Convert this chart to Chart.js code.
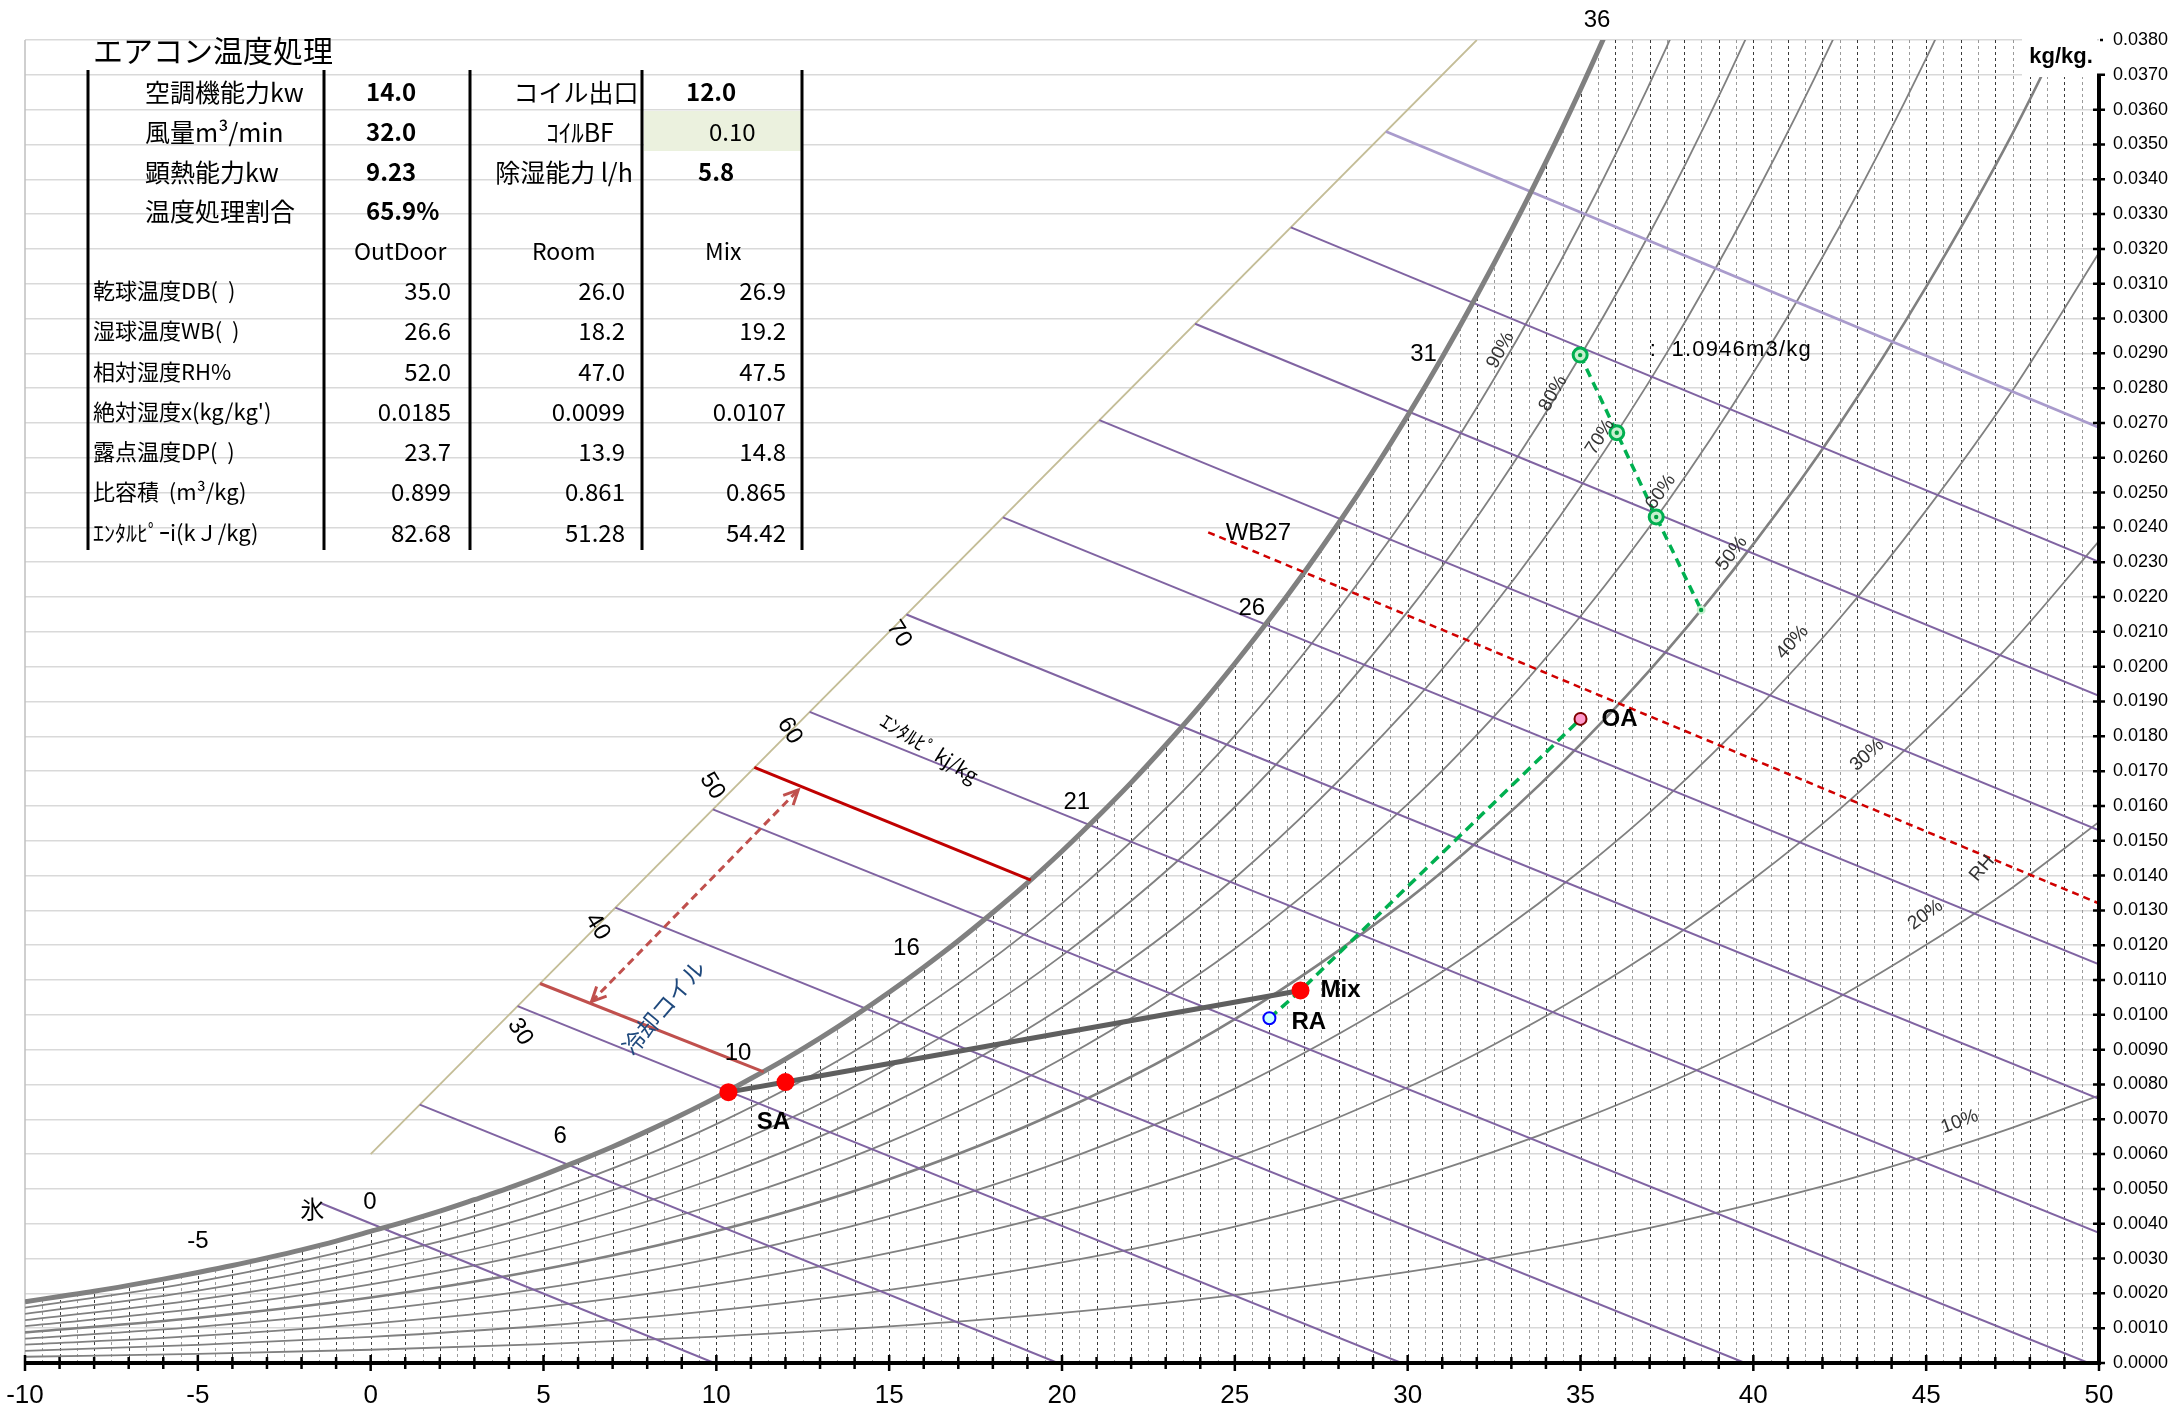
<!DOCTYPE html>
<html>
<head>
<meta charset="utf-8">
<script src="https://cdn.jsdelivr.net/npm/chart.js@4.4.0/dist/chart.umd.min.js"></script>
<style>
  html, body { margin: 0; padding: 0; background: #fff; }
  canvas { display: block; }
</style>
</head>
<body>
<canvas id="psy" width="2175" height="1406"></canvas>
<script>
// saturation curve (100%), kg/kg
const satTemps = [-10, -9, -8, -7, -6, -5, -4, -3, -2, -1, 0, 1, 2, 3, 4, 5, 6, 7, 8, 9, 10, 11, 12, 13, 14, 15, 16, 17, 18, 19, 20, 21, 22, 23, 24, 25, 26, 27, 28, 29, 30, 31, 32, 33, 34, 35, 36, 37];
const satX = [0.00176, 0.00191, 0.00206, 0.00223, 0.00241, 0.00260, 0.00280, 0.00302, 0.00325, 0.00350, 0.00378, 0.00406, 0.00436, 0.00469, 0.00503, 0.00540, 0.00580, 0.00621, 0.00666, 0.00713, 0.00763, 0.00817, 0.00873, 0.00933, 0.00997, 0.01065, 0.01137, 0.01213, 0.01294, 0.01379, 0.01470, 0.01566, 0.01667, 0.01775, 0.01888, 0.02009, 0.02136, 0.02270, 0.02412, 0.02562, 0.02721, 0.02889, 0.03066, 0.03253, 0.03450, 0.03658, 0.03879, 0.04109];

// relative humidity curves, kg/kg
const rhLevels = [90, 80, 70, 60, 50, 40, 30, 20, 10];
const rhTemps = [-10, -5, 0, 5, 10, 15, 20, 25, 30, 32.5, 35, 37.5, 40, 42.5, 45, 47.5, 50];
const rh90 = [0.00159, 0.00234, 0.00340, 0.00486, 0.00686, 0.00957, 0.01320, 0.01802, 0.02438, 0.02827, 0.03273, 0.03782, 0.04366, null, null, null, null];
const rh80 = [0.00141, 0.00208, 0.00302, 0.00432, 0.00609, 0.00849, 0.01170, 0.01597, 0.02158, 0.02501, 0.02893, 0.03339, 0.03851, 0.04431, null, null, null];
const rh70 = [0.00123, 0.00182, 0.00264, 0.00377, 0.00532, 0.00742, 0.01022, 0.01393, 0.01880, 0.02177, 0.02517, 0.02902, 0.03344, 0.03843, 0.04415, null, null];
const rh60 = [0.00106, 0.00156, 0.00226, 0.00323, 0.00456, 0.00635, 0.00874, 0.01190, 0.01605, 0.01857, 0.02145, 0.02471, 0.02844, 0.03265, 0.03747, 0.04287, null];
const rh50 = [0.00088, 0.00130, 0.00188, 0.00269, 0.00379, 0.00528, 0.00726, 0.00988, 0.01331, 0.01540, 0.01777, 0.02046, 0.02352, 0.02698, 0.03091, 0.03532, 0.04037];
const rh40 = [0.00070, 0.00104, 0.00151, 0.00215, 0.00303, 0.00422, 0.00580, 0.00788, 0.01061, 0.01226, 0.01414, 0.01626, 0.01868, 0.02139, 0.02449, 0.02794, 0.03189];
const rh30 = [0.00053, 0.00078, 0.00113, 0.00161, 0.00227, 0.00316, 0.00434, 0.00589, 0.00792, 0.00915, 0.01054, 0.01211, 0.01390, 0.01591, 0.01819, 0.02072, 0.02361];
const rh20 = [0.00035, 0.00052, 0.00075, 0.00107, 0.00151, 0.00210, 0.00289, 0.00392, 0.00526, 0.00607, 0.00699, 0.00802, 0.00920, 0.01052, 0.01201, 0.01366, 0.01554];
const rh10 = [0.00018, 0.00026, 0.00038, 0.00054, 0.00076, 0.00105, 0.00144, 0.00195, 0.00262, 0.00302, 0.00347, 0.00399, 0.00457, 0.00521, 0.00595, 0.00676, 0.00768];
const rhCurves = [rh90, rh80, rh70, rh60, rh50, rh40, rh30, rh20, rh10];

// enthalpy lines kJ/kg (start on the enthalpy scale, end at chart border)
const enthalpyH = [10, 20, 30, 40, 50, 60, 70, 80, 90, 100, 110, 120];
const enthStartT = [-1.42, 1.42, 4.25, 7.08, 9.9, 12.7, 15.5, 18.29, 21.08, 23.85, 26.62, 29.37];
const enthStartX = [0.00458, 0.00742, 0.01025, 0.01308, 0.0159, 0.0187, 0.0215, 0.02429, 0.02708, 0.02985, 0.03262, 0.03537];
const enthEndT = [9.94, 19.88, 29.82, 39.76, 49.7, 50, 50, 50, 50, 50, 50, 50];
const enthEndX = [0, 0, 0, 0, 0, 0.00374, 0.00759, 0.01145, 0.0153, 0.01916, 0.02301, 0.02687];
const enthScaleT = [0, 32];
const enthScaleX = [0.006, 0.038];

// states
const saT = 10.35, saX = 0.00778;
const coilT = 12.0, coilX = 0.00807;
const mixT = 26.9, mixX = 0.0107;
const raT = 26.0, raX = 0.0099;
const oaT = 35.0, oaX = 0.0185;

// coil enthalpy lines and arrow
const coilHiT = [11.1, 19.1], coilHiX = [0.01711, 0.01387];
const coilLoT = [4.9, 11.37], coilLoX = [0.0109, 0.00836];
const arrowT = [6.39, 12.37], arrowX = [0.01038, 0.01646];

// wet bulb 27 line
const wb27T = [24.23, 50], wb27X = [0.02386, 0.0132];

// green marker line
const volT = [34.99, 36.05, 37.19, 38.49];
const volX = [0.02895, 0.02672, 0.0243, 0.02163];

// labels
const wbLabelText = ['-5', '0', '6', '10', '16', '21', '26', '31', '36'];
const wbLabelT = [-5.0, -0.02, 5.48, 10.63, 15.5, 20.43, 25.49, 30.46, 35.48];
const wbLabelX = [0.00349, 0.00461, 0.0065, 0.00889, 0.01191, 0.01609, 0.02167, 0.02898, 0.03857];
const enthLabelText = ['30', '40', '50', '60', '70'];
const enthLabelT = [4.32, 6.56, 9.88, 12.12, 15.28];
const enthLabelX = [0.00951, 0.01253, 0.01657, 0.01816, 0.02094];
const rhLabelT = [32.69, 34.21, 35.57, 37.32, 39.38, 41.13, 43.29, 44.98, 45.97];
const rhLabelX = [0.02909, 0.02785, 0.0266, 0.02502, 0.02325, 0.0207, 0.01746, 0.01287, 0.00693];
const rhLabelRot = [-62, -60, -58, -55, -52, -48, -42, -36, -20];

// table
const topRows = [
  ['空調機能力kw', '14.0', 'コイル出口', '12.0'],
  ['風量m³/min', '32.0', 'ｺｲﾙBF', '0.10'],
  ['顕熱能力kw', '9.23', '除湿能力 l/h', '5.8'],
  ['温度処理割合', '65.9%', '', '']
];
const colHeads = ['OutDoor', 'Room', 'Mix'];
const rowNames = ['乾球温度DB(  )', '湿球温度WB(  )', '相対湿度RH%', "絶対湿度x(kg/kg')", '露点温度DP(  )', '比容積  (m³/kg)', 'ｴﾝﾀﾙﾋﾟｰi(kＪ/kg)'];
const outdoorVals = ['35.0', '26.6', '52.0', '0.0185', '23.7', '0.899', '82.68'];
const roomVals = ['26.0', '18.2', '47.0', '0.0099', '13.9', '0.861', '51.28'];
const mixVals = ['26.9', '19.2', '47.5', '0.0107', '14.8', '0.865', '54.42'];

const pts = (ts, xs) => ts.map((t, i) => ({ x: t, y: xs[i] })).filter(p => p.y !== null);
const line = (data, color, width, extra) => Object.assign({ data, borderColor: color, borderWidth: width, pointRadius: 0, showLine: true, fill: false }, extra || {});

// back to front
const datasets = [];
datasets.push(line(pts(enthScaleT, enthScaleX), '#c4bd97', 1.8));
rhCurves.forEach((c, i) => datasets.push(line(pts(rhTemps, c), '#808080', rhLevels[i] === 50 ? 2.6 : 1.8, { cubicInterpolationMode: 'monotone' })));
enthalpyH.forEach((h, i) => datasets.push(line([{ x: enthStartT[i], y: enthStartX[i] }, { x: enthEndT[i], y: enthEndX[i] }],
  h === 120 ? '#a99bcc' : '#8064a2', h === 120 ? 2.8 : 2)));
datasets.push(line(pts(satTemps, satX), '#808080', 5, { cubicInterpolationMode: 'monotone' }));
datasets.push(line(pts(wb27T, wb27X), '#d00000', 2.5, { borderDash: [7, 5] }));
datasets.push(line(pts(coilHiT, coilHiX), '#c00000', 3));
datasets.push(line(pts(coilLoT, coilLoX), '#c0504d', 3));
datasets.push(line(pts(arrowT, arrowX), '#c0504d', 3, { borderDash: [8, 5] }));
datasets.push(line(pts(volT, volX), '#00b050', 3.5, {
  borderDash: [9, 6], pointRadius: [7, 7, 7, 4.5], pointBorderWidth: [3, 3, 3, 0],
  pointBackgroundColor: '#c6efce', pointBorderColor: '#00b050'
}));
datasets.push({ data: pts(volT, volX), showLine: false, pointRadius: 2.2, pointBackgroundColor: '#00a040', pointBorderWidth: 0 });
datasets.push(line([{ x: saT, y: saX }, { x: coilT, y: coilX }, { x: mixT, y: mixX }], '#5f5f5f', 5));
datasets.push(line([{ x: raT, y: raX }, { x: mixT, y: mixX }, { x: oaT, y: oaX }], '#00b050', 3.5, { borderDash: [10, 6] }));
datasets.push({ data: [{ x: raT, y: raX }], showLine: false, pointRadius: 6, pointBackgroundColor: '#ccffff', pointBorderColor: '#0000ff', pointBorderWidth: 2 });
datasets.push({ data: [{ x: oaT, y: oaX }], showLine: false, pointRadius: 6, pointBackgroundColor: '#ff99cc', pointBorderColor: '#800000', pointBorderWidth: 2 });
datasets.push({ data: [{ x: saT, y: saX }, { x: coilT, y: coilX }, { x: mixT, y: mixX }], showLine: false, pointRadius: 9, pointBackgroundColor: '#ff0000', pointBorderWidth: 0 });
datasets.forEach((d, i) => { d.order = datasets.length - i; });

function txt(ctx, s, x, y, o) {
  ctx.save();
  ctx.translate(x, y);
  if (o.rot) ctx.rotate(o.rot * Math.PI / 180);
  ctx.font = o.font;
  if (o.ls) ctx.letterSpacing = o.ls;
  ctx.fillStyle = o.color || '#000';
  ctx.textAlign = o.align || 'center';
  ctx.textBaseline = o.base || 'middle';
  ctx.fillText(s, 0, 0);
  ctx.restore();
}

const psyPlugin = {
  id: 'psy',
  beforeDatasetsDraw(chart) {
    const { ctx, chartArea: a, scales: { x: sx, y: sy } } = chart;
    const px = v => sx.getPixelForValue(v), py = v => sy.getPixelForValue(v);
    ctx.save();
    ctx.beginPath();
    ctx.rect(a.left, a.top, a.right - a.left, a.bottom - a.top);
    ctx.clip();
    ctx.beginPath();
    ctx.moveTo(px(-10), py(0));
    satTemps.forEach((t, i) => ctx.lineTo(px(t), py(satX[i])));
    ctx.lineTo(px(50), py(satX[satX.length - 1]));
    ctx.lineTo(px(50), py(0));
    ctx.closePath();
    ctx.clip();
    ctx.lineWidth = 1;
    ctx.setLineDash([3, 3]);
    for (let k = 1; k < 120; k++) {
      const t = -10 + k * 0.5;
      ctx.strokeStyle = k % 2 === 0 ? '#3a3a3a' : '#9a9a9a';
      ctx.beginPath();
      ctx.moveTo(Math.round(px(t)) + 0.5, py(0));
      ctx.lineTo(Math.round(px(t)) + 0.5, a.top);
      ctx.stroke();
    }
    ctx.restore();
    ctx.save();
    ctx.strokeStyle = '#bfbfbf';
    ctx.lineWidth = 1.5;
    ctx.beginPath();
    ctx.moveTo(a.left, a.top);
    ctx.lineTo(a.left, a.bottom);
    ctx.stroke();
    ctx.restore();
  },
  afterDatasetsDraw(chart) {
    const { ctx, chartArea: a, scales: { x: sx, y: sy } } = chart;
    const px = v => sx.getPixelForValue(v), py = v => sy.getPixelForValue(v);
    ctx.save();

    // arrow heads on the coil arrow
    const ax0 = px(arrowT[0]), ay0 = py(arrowX[0]), ax1 = px(arrowT[1]), ay1 = py(arrowX[1]);
    const ang = Math.atan2(ay1 - ay0, ax1 - ax0);
    ctx.strokeStyle = '#c0504d';
    ctx.lineWidth = 3;
    [[ax1, ay1, ang], [ax0, ay0, ang + Math.PI]].forEach(([hx, hy, an]) => {
      ctx.beginPath();
      ctx.moveTo(hx - 16 * Math.cos(an - 0.45), hy - 16 * Math.sin(an - 0.45));
      ctx.lineTo(hx, hy);
      ctx.lineTo(hx - 16 * Math.cos(an + 0.45), hy - 16 * Math.sin(an + 0.45));
      ctx.stroke();
    });

    // axes
    const y0 = py(0);
    ctx.strokeStyle = '#000';
    ctx.lineWidth = 4;
    ctx.beginPath();
    ctx.moveTo(a.left - 1, y0);
    ctx.lineTo(a.right + 2, y0);
    ctx.moveTo(a.right, y0);
    ctx.lineTo(a.right, py(0.037));
    ctx.stroke();
    ctx.lineWidth = 2.5;
    ctx.beginPath();
    for (let t = -10; t <= 50; t++) {
      const len = t % 5 === 0 ? 8 : 6;
      ctx.moveTo(px(t), y0 - len);
      ctx.lineTo(px(t), y0 + len);
    }
    for (let k = 0; k <= 37; k++) {
      ctx.moveTo(a.right - 6, py(k / 1000));
      ctx.lineTo(a.right + 6, py(k / 1000));
    }
    ctx.moveTo(a.right + 1, py(0.038));
    ctx.lineTo(a.right + 4, py(0.038));
    ctx.stroke();

    // unit box
    ctx.fillStyle = '#fff';
    ctx.fillRect(2022, 30, a.right - 2024, 47);
    txt(ctx, 'kg/kg.', 2061, 57, { font: 'bold 22px "Liberation Sans"' });

    // chart labels
    const f24 = '24px "Liberation Sans"';
    wbLabelText.forEach((s, i) => txt(ctx, s, px(wbLabelT[i]), py(wbLabelX[i]), { font: f24 }));
    enthLabelText.forEach((s, i) => txt(ctx, s, px(enthLabelT[i]), py(enthLabelX[i]), { font: f24, rot: 58 }));
    rhLevels.forEach((lv, i) => txt(ctx, lv + '%', px(rhLabelT[i]), py(rhLabelX[i]), { font: '19px "Liberation Sans"', color: '#333', rot: rhLabelRot[i] }));
    txt(ctx, 'RH', px(46.62), py(0.01421), { font: '19px "Liberation Sans"', color: '#333', rot: -50 });
    txt(ctx, 'WB27', px(25.68), py(0.02383), { font: f24 });
    txt(ctx, '氷', px(-1.69), py(0.00444), { font: '24px "Noto Sans CJK JP"' });
    txt(ctx, ':  1.0946m3/kg', px(37.0), py(0.02909), { font: '22px "Liberation Sans"', align: 'left', ls: '1.2px' });
    txt(ctx, 'ｴﾝﾀﾙﾋﾟ kj/kg', px(16.16), py(0.01766), { font: '20px "Noto Sans CJK JP"', rot: 32 });
    txt(ctx, '冷却コイル', px(8.47), py(0.01022), { font: '23px "Noto Sans CJK JP"', color: '#1f497d', rot: -50 });
    const fb = 'bold 24px "Liberation Sans"';
    txt(ctx, 'OA', px(oaT) + 21, py(oaX), { font: fb, align: 'left' });
    txt(ctx, 'Mix', px(mixT) + 20, py(mixX), { font: fb, align: 'left' });
    txt(ctx, 'RA', px(raT) + 22, py(raX) + 4, { font: fb, align: 'left' });
    txt(ctx, 'SA', px(saT) + 45, py(saX) + 30, { font: fb });
    ctx.restore();
  },
  afterDraw(chart) {
    const ctx = chart.ctx;
    ctx.save();
    const jp = '"Noto Sans CJK JP"';
    txt(ctx, 'エアコン温度処理', 93, 51, { font: '30px ' + jp, align: 'left' });
    // green cell
    ctx.fillStyle = '#ebf1de';
    ctx.fillRect(644, 111, 157, 40);
    const rowsY = [92, 132, 172, 211, 251, 291, 331, 372, 412, 452, 492, 533];
    const c3x = [576, 580, 564, 0], c4x = [686, 709, 698, 0];
    topRows.forEach((r, i) => {
      const y = rowsY[i];
      txt(ctx, r[0], 145, y, { font: '25px ' + jp, align: 'left' });
      txt(ctx, r[1], 366, y, { font: 'bold 24px ' + jp, align: 'left' });
      if (r[2]) txt(ctx, r[2], c3x[i], y, { font: '25px ' + jp });
      if (r[3]) txt(ctx, r[3], c4x[i], y, { font: (i === 1 ? '' : 'bold ') + '24px ' + jp, align: 'left' });
    });
    [354, 532, 705].forEach((x, i) => txt(ctx, colHeads[i], x, rowsY[4], { font: '23px ' + jp, align: 'left' }));
    rowNames.forEach((s, i) => {
      const y = rowsY[5 + i];
      txt(ctx, s, 93, y, { font: '22px ' + jp, align: 'left' });
      txt(ctx, outdoorVals[i], 451, y, { font: '24px ' + jp, align: 'right' });
      txt(ctx, roomVals[i], 625, y, { font: '24px ' + jp, align: 'right' });
      txt(ctx, mixVals[i], 786, y, { font: '24px ' + jp, align: 'right' });
    });
    ctx.strokeStyle = '#000';
    ctx.lineWidth = 3;
    ctx.beginPath();
    [88, 324, 470, 642, 802].forEach(x => { ctx.moveTo(x, 70); ctx.lineTo(x, 550); });
    ctx.stroke();
    ctx.restore();
  }
};

new Chart(document.getElementById('psy'), {
  type: 'scatter',
  data: { datasets },
  options: {
    responsive: false,
    devicePixelRatio: 1,
    animation: false,
    layout: { padding: { left: 25, top: 40, right: 0, bottom: 0 } },
    plugins: { legend: { display: false }, tooltip: { enabled: false } },
    scales: {
      x: {
        type: 'linear', min: -10, max: 50,
        grid: { display: false },
        border: { display: false },
        ticks: { stepSize: 5, padding: 9, color: '#000', font: { family: 'Liberation Sans', size: 26 } },
        afterFit: s => { s.height = 43; s.paddingLeft = 0; s.paddingRight = 0; }
      },
      y: {
        type: 'linear', position: 'right', min: 0, max: 0.038,
        grid: { color: '#d9d9d9', lineWidth: 1.5, drawTicks: false },
        border: { display: false },
        ticks: {
          stepSize: 0.001, autoSkip: false, maxTicksLimit: 100, padding: 14, color: '#000',
          font: { family: 'Liberation Sans', size: 18 },
          callback: v => v.toFixed(4)
        },
        afterFit: s => { s.width = 76; s.paddingTop = 0; s.paddingBottom = 0; }
      }
    }
  },
  plugins: [psyPlugin]
});
</script>
</body>
</html>
